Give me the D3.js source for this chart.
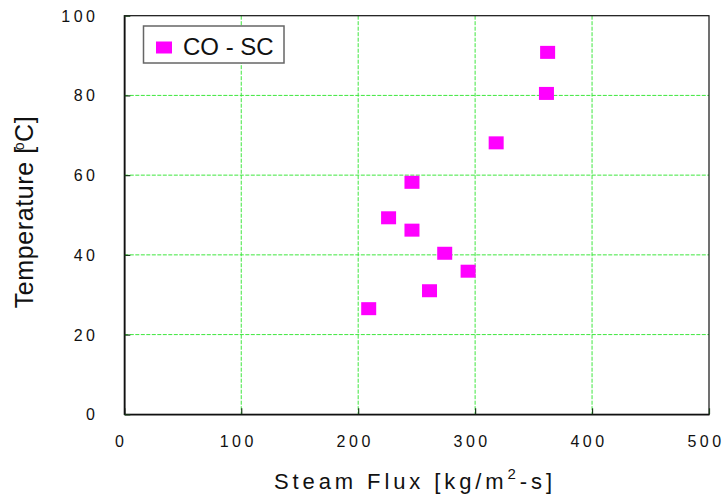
<!DOCTYPE html>
<html>
<head>
<meta charset="utf-8">
<title>Temperature vs Steam Flux</title>
<script src="https://cdn.jsdelivr.net/npm/d3@7"></script>
<style>
  body { margin: 0; background: #fff; font-family: Arial, "Liberation Sans", sans-serif; }
  svg text { fill: #111; }
</style>
</head>
<body>
<svg id="chart" width="725" height="500"></svg>
<script>
// data
var seriesName = 'CO - SC';
var steamFlux = [362, 361, 318, 246, 226, 246, 274, 294, 261, 209];
var temperature = [90.8, 80.5, 68.1, 58.2, 49.3, 46.2, 40.4, 35.9, 31.0, 26.5];
var xTicks = [0, 100, 200, 300, 400, 500];
var yTicks = [0, 20, 40, 60, 80, 100];

var svg = d3.select('#chart');
var plotL = 124.3, plotR = 709, plotT = 15.7, plotB = 414.3;

var x = d3.scaleLinear().domain([0, 500]).range([plotL, plotR]);
var y = d3.scaleLinear().domain([0, 100]).range([plotB, plotT]);

// grid
var grid = svg.append('g')
    .attr('stroke', '#3ee63e')
    .attr('stroke-width', 1)
    .attr('stroke-dasharray', '4,1.5');
grid.selectAll('.gx')
    .data(xTicks.slice(1, -1))
    .enter().append('line')
    .attr('x1', function (d) { return x(d); })
    .attr('x2', function (d) { return x(d); })
    .attr('y1', plotT).attr('y2', plotB);
grid.selectAll('.gy')
    .data(yTicks.slice(1, -1))
    .enter().append('line')
    .attr('y1', function (d) { return y(d); })
    .attr('y2', function (d) { return y(d); })
    .attr('x1', plotL).attr('x2', plotR);

// frame
svg.append('rect')
    .attr('x', plotL).attr('y', plotT)
    .attr('width', plotR - plotL).attr('height', plotB - plotT)
    .attr('fill', 'none').attr('stroke', '#111').attr('stroke-width', 1.2);

// axes (inward ticks, labels drawn separately)
var xAxis = svg.append('g')
    .attr('transform', 'translate(0,' + plotB + ')')
    .call(d3.axisBottom(x).tickValues(xTicks).tickSizeInner(-6).tickSizeOuter(0).tickFormat(''));
var yAxis = svg.append('g')
    .attr('transform', 'translate(' + plotL + ',0)')
    .call(d3.axisLeft(y).tickValues(yTicks).tickSizeInner(-6).tickSizeOuter(0).tickFormat(''));
[xAxis, yAxis].forEach(function (a) {
    a.select('.domain').attr('stroke', '#111').attr('stroke-width', 1.6);
    a.selectAll('.tick line').attr('stroke', '#1a3a1a').attr('stroke-width', 1.2);
});

svg.append('g').selectAll('text')
    .data(xTicks)
    .enter().append('text')
    .attr('x', function (d) { return x(d) - 3; })
    .attr('y', 446.5)
    .attr('text-anchor', 'middle')
    .style('font-size', '16px')
    .style('letter-spacing', '3.5px')
    .text(function (d) { return d; });

svg.append('g').selectAll('text')
    .data(yTicks)
    .enter().append('text')
    .attr('x', 98.5)
    .attr('y', function (d) { return y(d) + 6; })
    .attr('text-anchor', 'end')
    .style('font-size', '16px')
    .style('letter-spacing', '3.5px')
    .text(function (d) { return d; });

// axis titles
var xt = svg.append('text')
    .attr('x', 415).attr('y', 488.5)
    .attr('text-anchor', 'middle')
    .style('font-size', '22px')
    .style('letter-spacing', '3.9px');
xt.append('tspan').text('Steam Flux  [kg/m');
xt.append('tspan').attr('dy', -10).style('font-size', '15px').text('2');
xt.append('tspan').attr('dy', 10).text('-s]');

var yt = svg.append('text')
    .attr('transform', 'translate(33,212) rotate(-90)')
    .attr('text-anchor', 'middle')
    .style('font-size', '25px')
    .style('letter-spacing', '0.6px');
yt.append('tspan').text('Temperature [');
yt.append('tspan').attr('dy', -9).attr('dx', -4).style('font-size', '14px').text('o');
yt.append('tspan').attr('dy', 9).text('C]');

// points
svg.append('g').selectAll('rect')
    .data(steamFlux)
    .enter().append('rect')
    .attr('x', function (d) { return x(d) - 7.5; })
    .attr('y', function (d, i) { return y(temperature[i]) - 6.5; })
    .attr('width', 15).attr('height', 13)
    .attr('fill', '#ff00ff');

// legend
var lg = svg.append('g');
lg.append('rect')
    .attr('x', 143.5).attr('y', 26)
    .attr('width', 140.5).attr('height', 37)
    .attr('fill', '#fff').attr('stroke', '#666').attr('stroke-width', 1.5);
lg.append('rect')
    .attr('x', 156).attr('y', 41.5)
    .attr('width', 16).attr('height', 12)
    .attr('fill', '#ff00ff');
lg.append('text')
    .attr('x', 183).attr('y', 55)
    .style('font-size', '24px')
    .text(seriesName);
</script>
</body>
</html>
